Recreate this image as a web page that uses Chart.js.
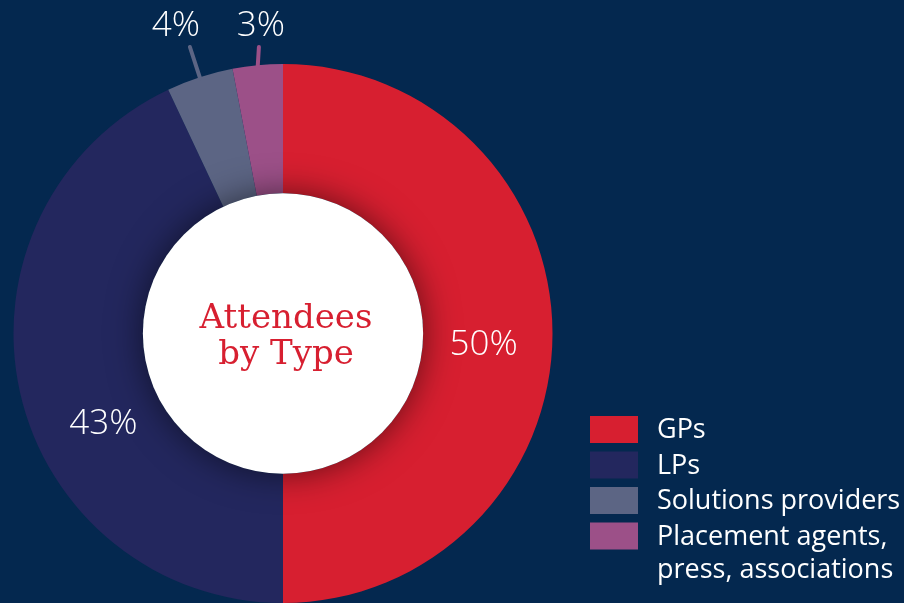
<!DOCTYPE html>
<html>
<head>
<meta charset="utf-8">
<script src="https://cdn.jsdelivr.net/npm/chart.js"></script>
<style>
html, body { margin: 0; padding: 0; background: #04284f; }
#wrap { width: 904px; height: 603px; }
</style>
</head>
<body>
<div id="wrap"><canvas id="typeChart"></canvas></div>
<script>
// attendee shares, clockwise from 12 o'clock
var categories = ['GPs', 'LPs', 'Solutions providers', ['Placement agents,', 'press, associations']];
var shares = [50, 43, 4, 3];
var colours = ['#d71f30', '#23275e', '#5c6584', '#9c5088'];
var centreTitle = ['Attendees', 'by Type'];

document.addEventListener('DOMContentLoaded', function() {
    var ctx = document.getElementById('typeChart').getContext('2d');

    // white hole, centre title, % labels and legend
    var ringExtras = {
        id: 'ringExtras',
        beforeDraw: function(chart) {
            var c = chart.ctx;
            c.save();
            c.fillStyle = '#04284f';
            c.fillRect(0, 0, chart.width, chart.height);
            c.restore();
        },
        afterDatasetsDraw: function(chart) {
            var c = chart.ctx;
            var meta = chart.getDatasetMeta(0);
            var first = meta.data[0];
            var cx = first.x, cy = first.y;
            var inner = first.innerRadius, outer = first.outerRadius;

            c.save();
            c.shadowColor = 'rgba(0,0,0,0.55)';
            c.shadowBlur = 35;
            c.fillStyle = '#ffffff';
            c.beginPath();
            c.arc(cx, cy, inner, 0, Math.PI * 2);
            c.fill();
            c.restore();

            c.save();
            c.fillStyle = '#d71f30';
            c.font = '34px "DejaVu Serif"';
            c.textAlign = 'center';
            c.textBaseline = 'alphabetic';
            c.fillText(centreTitle[0], cx + 3, cy - 6);
            c.fillText(centreTitle[1], cx + 3, cy + 30);
            c.restore();

            // percentage labels
            var nudge = [3, -14, 0, 0];
            c.save();
            c.font = '300 35px "Open Sans"';
            c.textAlign = 'center';
            c.textBaseline = 'middle';
            meta.data.forEach(function(arc, i) {
                var mid = (arc.startAngle + arc.endAngle) / 2 + nudge[i] * Math.PI / 180;
                var txt = shares[i] + '%';
                if (shares[i] >= 10) {
                    var r = (inner + outer) / 2 - 4;
                    c.fillStyle = '#ffffff';
                    c.fillText(txt, cx + r * Math.cos(mid), cy + r * Math.sin(mid) + 1);
                } else {
                    var sx = cx + (outer - 1) * Math.cos(mid);
                    var sy = cy + (outer - 1) * Math.sin(mid);
                    var endY = cy - outer - 17;
                    var t = (endY - sy) / Math.sin(mid);
                    var ex = sx + t * Math.cos(mid);
                    c.strokeStyle = colours[i];
                    c.lineWidth = 4;
                    c.lineCap = 'round';
                    c.beginPath();
                    c.moveTo(sx, sy);
                    c.lineTo(ex + (i === 3 ? 3 : 0), endY);
                    c.stroke();
                    c.fillStyle = '#ffffff';
                    c.fillText(txt, ex + (i === 2 ? -14 : 5), endY - 21);
                }
            });
            c.restore();

            // legend
            var lx = 590, ly = 416, step = 35.5;
            c.save();
            c.font = '27px "Open Sans"';
            c.textAlign = 'left';
            c.textBaseline = 'alphabetic';
            chart.data.labels.forEach(function(lab, i) {
                var top = ly + i * step;
                c.fillStyle = colours[i];
                c.fillRect(lx, top, 48, 27);
                c.fillStyle = '#ffffff';
                var lines = Array.isArray(lab) ? lab : [lab];
                lines.forEach(function(line, k) {
                    c.fillText(line, lx + 67, top + 22 + k * 33);
                });
            });
            c.restore();
        }
    };

    new Chart(ctx, {
        type: 'doughnut',
        data: {
            labels: categories,
            datasets: [{
                data: shares,
                backgroundColor: colours,
                borderWidth: 0,
                hoverOffset: 0
            }]
        },
        options: {
            responsive: true,
            maintainAspectRatio: false,
            animation: false,
            events: [],
            cutout: '52%',
            layout: { padding: { left: 13, top: 64, right: 351, bottom: 0 } },
            plugins: {
                legend: { display: false },
                tooltip: { enabled: false }
            }
        },
        plugins: [ringExtras]
    });
});
</script>
</body>
</html>
